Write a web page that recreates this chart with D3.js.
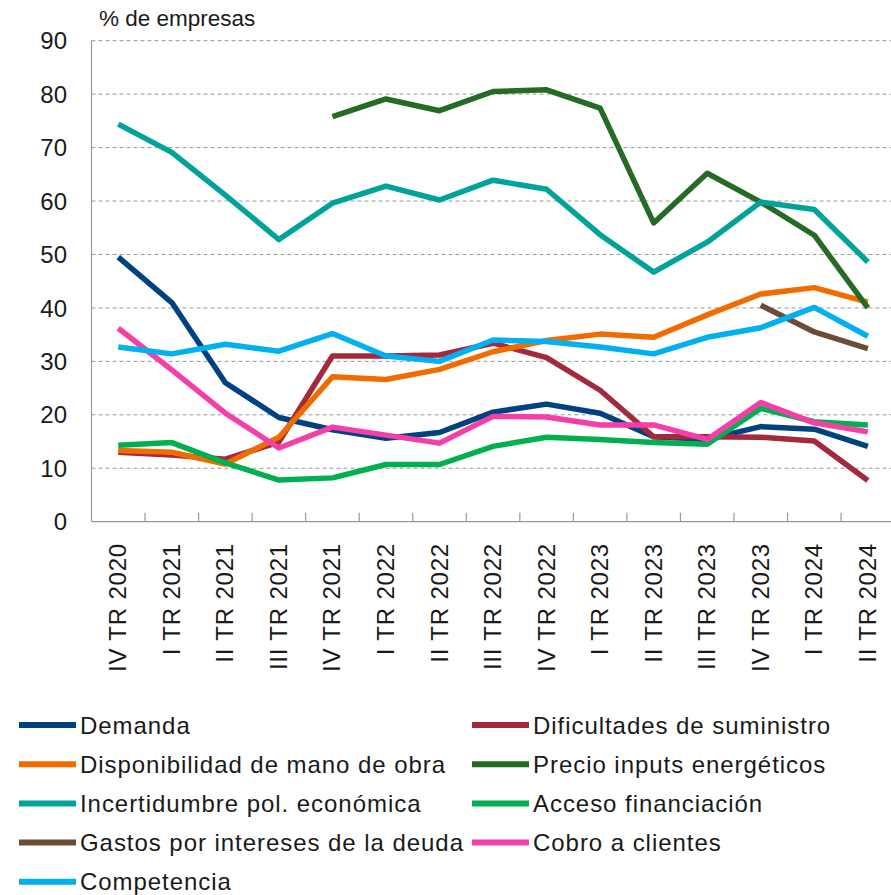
<!DOCTYPE html>
<html>
<head>
<meta charset="utf-8">
<script src="https://cdn.jsdelivr.net/npm/d3@7"></script>
<style>
  body { margin: 0; background: #fff; }
  svg text { font-family: "Liberation Sans", Arial, sans-serif; fill: #1a1a1a; }
</style>
</head>
<body>
<div id="chart"></div>
<script>
const quarters = ["IV TR 2020", "I TR 2021", "II TR 2021", "III TR 2021", "IV TR 2021",
  "I TR 2022", "II TR 2022", "III TR 2022", "IV TR 2022", "I TR 2023",
  "II TR 2023", "III TR 2023", "IV TR 2023", "I TR 2024", "II TR 2024"];

const yTicks = [0, 10, 20, 30, 40, 50, 60, 70, 80, 90];

const demanda        = [49.5, 41.0, 26.0, 19.5, 17.2, 15.6, 16.7, 20.5, 22.0, 20.3, 15.9, 15.4, 17.8, 17.3, 14.1];
const dificultades   = [13.0, 12.5, 11.7, 14.9, 31.0, 31.0, 31.2, 33.4, 30.7, 24.6, 15.9, 15.9, 15.8, 15.1, 7.7];
const disponibilidad = [13.3, 13.0, 10.8, 15.8, 27.1, 26.6, 28.5, 31.8, 33.9, 35.1, 34.5, 38.7, 42.6, 43.8, 41.1];
const precioEnergia  = [null, null, null, null, 75.8, 79.1, 76.9, 80.5, 80.8, 77.4, 55.9, 65.2, 59.8, 53.6, 40.0];
const incertidumbre  = [74.4, 69.1, 61.1, 52.8, 59.6, 62.8, 60.2, 63.9, 62.2, 53.7, 46.7, 52.3, 59.8, 58.4, 48.6];
const accesoFinanc   = [14.3, 14.8, 11.0, 7.8, 8.2, 10.7, 10.7, 14.1, 15.8, 15.4, 14.8, 14.5, 21.2, 18.7, 18.1];
const gastosInteres  = [null, null, null, null, null, null, null, null, null, null, null, null, 40.5, 35.5, 32.4];
const cobroClientes  = [36.2, 28.4, 20.3, 13.8, 17.7, 16.2, 14.7, 19.7, 19.6, 18.1, 18.1, 15.4, 22.3, 18.5, 16.8];
const competencia    = [32.7, 31.4, 33.2, 31.9, 35.2, 31.0, 30.0, 34.0, 33.7, 32.7, 31.4, 34.5, 36.3, 40.1, 34.7];

// drawing order = legend order (row by row)
const series = [
  { name: "Demanda", values: demanda, color: "#00427f" },
  { name: "Dificultades de suministro", values: dificultades, color: "#a3293b" },
  { name: "Disponibilidad de mano de obra", values: disponibilidad, color: "#f06c00" },
  { name: "Precio inputs energéticos", values: precioEnergia, color: "#266b25" },
  { name: "Incertidumbre pol. económica", values: incertidumbre, color: "#00a39a" },
  { name: "Acceso financiación", values: accesoFinanc, color: "#00b050" },
  { name: "Gastos por intereses de la deuda", values: gastosInteres, color: "#6b4c36" },
  { name: "Cobro a clientes", values: cobroClientes, color: "#f43fa8" },
  { name: "Competencia", values: competencia, color: "#00b0f0" }
];

const width = 891, height = 895;
const margin = { top: 40.7, left: 91.5, bottom: 521.7, right: 894.6 };

const svg = d3.select("#chart").append("svg")
  .attr("width", width)
  .attr("height", height);

const x = d3.scaleBand()
  .domain(quarters)
  .range([margin.left, margin.right]);

const y = d3.scaleLinear()
  .domain([0, 90])
  .range([margin.bottom, margin.top]);

// dashed gridlines
svg.append("g")
  .selectAll("line")
  .data(yTicks.filter(d => d > 0))
  .join("line")
  .attr("x1", margin.left)
  .attr("x2", margin.right)
  .attr("y1", d => y(d))
  .attr("y2", d => y(d))
  .attr("stroke", "#9a9a9a")
  .attr("stroke-width", 1)
  .attr("stroke-dasharray", "4,3");

// y tick labels
svg.append("g")
  .selectAll("text")
  .data(yTicks)
  .join("text")
  .attr("x", 67)
  .attr("y", d => y(d))
  .attr("dy", "0.36em")
  .attr("text-anchor", "end")
  .style("font-size", "24px")
  .text(d => d);

// axis title
svg.append("text")
  .attr("x", 99)
  .attr("y", 26)
  .style("font-size", "22.5px")
  .text("% de empresas");

// axes lines
svg.append("line")
  .attr("x1", margin.left).attr("x2", margin.left)
  .attr("y1", margin.top).attr("y2", margin.bottom)
  .attr("stroke", "#999").attr("stroke-width", 1.2);

svg.append("line")
  .attr("x1", margin.left).attr("x2", margin.right)
  .attr("y1", margin.bottom).attr("y2", margin.bottom)
  .attr("stroke", "#999").attr("stroke-width", 1.2);

// x ticks between categories, pointing up
svg.append("g")
  .selectAll("line")
  .data(quarters.slice(1))
  .join("line")
  .attr("x1", d => x(d))
  .attr("x2", d => x(d))
  .attr("y1", margin.bottom)
  .attr("y2", margin.bottom - 9)
  .attr("stroke", "#999")
  .attr("stroke-width", 1.2);

// x labels rotated
svg.append("g")
  .selectAll("text")
  .data(quarters)
  .join("text")
  .attr("transform", d => `translate(${x(d) + x.bandwidth() / 2 + 8},543) rotate(-90)`)
  .attr("text-anchor", "end")
  .style("font-size", "24px")
  .style("letter-spacing", "0.8px")
  .text(d => d);

// lines
const line = d3.line()
  .defined(d => d != null)
  .x((d, i) => x(quarters[i]) + x.bandwidth() / 2)
  .y(d => y(d));

svg.append("g")
  .selectAll("path")
  .data(series)
  .join("path")
  .attr("d", d => line(d.values))
  .attr("fill", "none")
  .attr("stroke", d => d.color)
  .attr("stroke-width", 5.5)
  .attr("stroke-linejoin", "round");

// legend, two columns, row-major
const legend = svg.append("g")
  .selectAll("g")
  .data(series)
  .join("g")
  .attr("transform", (d, i) => `translate(${i % 2 === 0 ? 19 : 472},${725 + Math.floor(i / 2) * 39.2})`);

legend.append("line")
  .attr("x1", 0).attr("x2", 57)
  .attr("stroke", d => d.color)
  .attr("stroke-width", 6);

legend.append("text")
  .attr("x", 61)
  .attr("dy", "0.36em")
  .style("font-size", "24px")
  .style("letter-spacing", "0.95px")
  .text(d => d.name);
</script>
</body>
</html>
